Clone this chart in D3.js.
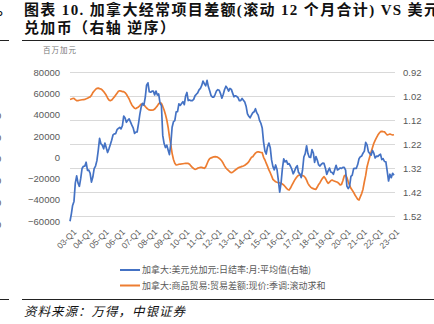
<!DOCTYPE html>
<html>
<head>
<meta charset="utf-8">
<script src="https://cdn.jsdelivr.net/npm/d3@7/dist/d3.min.js"></script>
<style>
  html, body { margin: 0; padding: 0; background: #fff; }
  svg { display: block; }
</style>
</head>
<body>
<svg id="chart" width="434" height="324"></svg>
<script>
// Canada: USD/CAD monthly average of daily rates (right axis, reversed), Jan 2003 - Feb 2023
const usdcad = [
  1.5418, 1.5108, 1.4759, 1.4592, 1.3831, 1.3525, 1.3821, 1.3963, 1.3634, 1.3221, 1.3128, 1.3124,
  1.2958, 1.3299, 1.3286, 1.3420, 1.3789, 1.3578, 1.3225, 1.3119, 1.2893, 1.2478, 1.1968, 1.2189,
  1.2248, 1.2401, 1.2160, 1.2359, 1.2555, 1.2402, 1.2229, 1.2044, 1.1822, 1.1775, 1.1766, 1.1604,
  1.1551, 1.1507, 1.1572, 1.1441, 1.1033, 1.1113, 1.1295, 1.1214, 1.1150, 1.1276, 1.1414, 1.1526,
  1.1756, 1.1703, 1.1700, 1.1349, 1.0964, 1.0655, 1.0509, 1.0581, 1.0255, 0.9750, 0.9652, 1.0025,
  1.0044, 0.9992, 0.9998, 1.0152, 0.9993, 1.0161, 1.0115, 1.0504, 1.0596, 1.1842, 1.2181, 1.2347,
  1.2247, 1.2457, 1.2640, 1.2206, 1.1501, 1.1270, 1.1226, 1.0864, 1.0855, 1.0530, 1.0591, 1.0516,
  1.0436, 1.0561, 1.0212, 1.0052, 1.0389, 1.0365, 1.0394, 1.0391, 1.0339, 1.0196, 1.0127, 1.0070,
  0.9942, 0.9880, 0.9769, 0.9580, 0.9687, 0.9776, 0.9547, 0.9818, 0.9994, 1.0189, 1.0243, 1.0247,
  1.0128, 0.9983, 0.9937, 0.9958, 1.0100, 1.0292, 1.0140, 0.9928, 0.9792, 0.9873, 0.9992, 0.9886,
  0.9925, 1.0091, 1.0233, 1.0190, 1.0213, 1.0268, 1.0392, 1.0390, 1.0302, 1.0377, 1.0453, 1.0625,
  1.0943, 1.1045, 1.1109, 1.0996, 1.0897, 1.0859, 1.0730, 1.0904, 1.0997, 1.1214, 1.1336, 1.1530,
  1.2120, 1.2495, 1.2617, 1.2313, 1.2161, 1.2351, 1.2863, 1.3145, 1.3275, 1.3073, 1.3262, 1.3705,
  1.4203, 1.3821, 1.3235, 1.2819, 1.2947, 1.2891, 1.3038, 1.3016, 1.3127, 1.3249, 1.3440, 1.3335,
  1.3183, 1.3107, 1.3382, 1.3443, 1.3599, 1.3294, 1.2740, 1.2603, 1.2273, 1.2598, 1.2752, 1.2763,
  1.2434, 1.2574, 1.2968, 1.2721, 1.2870, 1.3071, 1.3117, 1.3042, 1.2997, 1.3010, 1.3206, 1.3468,
  1.3319, 1.3205, 1.3364, 1.3391, 1.3463, 1.3265, 1.3089, 1.3281, 1.3240, 1.3198, 1.3217, 1.3175,
  1.3170, 1.3287, 1.3957, 1.4054, 1.3964, 1.3551, 1.3495, 1.3227, 1.3216, 1.3212, 1.3057, 1.2813,
  1.2727, 1.2697, 1.2583, 1.2496, 1.2136, 1.2235, 1.2520, 1.2597, 1.2665, 1.2470, 1.2580, 1.2780,
  1.2706, 1.2718, 1.2662, 1.2624, 1.2848, 1.2815, 1.2929, 1.2946, 1.3345, 1.3742, 1.3459, 1.3605,
  1.3422, 1.3499
];

// Canada: merchandise trade balance, current prices, s.a., rolling 12-month sum (CAD mn, left axis)
const tradeBalance = [
  54700, 55000, 55500, 55700, 54500, 53400, 53500, 53800, 54100, 54300, 54500, 54700,
  55200, 55800, 56500, 57000, 58500, 61000, 62500, 64000, 65100, 65300, 64800, 64400,
  63500, 62000, 60400, 58500, 56000, 54000, 53400, 54000, 55500, 57000, 58800, 60500,
  62300, 62800, 62500, 62000, 61900, 61000, 59500, 57200, 55000, 52000, 49400, 47800,
  46300, 46000, 46800, 47500, 48800, 50300, 50000, 49400, 48000, 46500, 45500, 44700,
  44500, 44600, 44700, 45500, 47000, 48500, 50500, 51500, 51000, 48000, 44600, 40500,
  35200, 28000, 19500, 12000, 3800, -2000, -5500, -7200, -7000, -6500, -6300, -6200,
  -6000, -5800, -5600, -5600, -5700, -6500, -8100, -9500, -10500, -11300, -11000, -10200,
  -9800, -9400, -9500, -9900, -10300, -9000, -6000, -3000, -1000, -500, 0, 500,
  600, 500, 0, -900, -2000, -3500, -5600, -8000, -10000, -11300, -12500, -13800,
  -14500, -14000, -13000, -11900, -11000, -10000, -9400, -9000, -8500, -8100, -7500, -6500,
  -5600, -4000, -2000, 0, 600, 2500, 4000, 5000, 5300, 5000, 4600, 4400,
  0, -2500, -5500, -8500, -11900, -14500, -17500, -20700, -22000, -23000, -23500, -23900,
  -24000, -24500, -25200, -26000, -27500, -29000, -30300, -30800, -29000, -26500, -24000, -21700,
  -19700, -18000, -17000, -16600, -16800, -17200, -17600, -19000, -21500, -24500, -26500, -28000,
  -29000, -29500, -30000, -30100, -28000, -25500, -23900, -21500, -19500, -18200, -20000, -22500,
  -24500, -23500, -22000, -21400, -22000, -22500, -23000, -23500, -24500, -26000, -25500, -22000,
  -17500, -16600, -19000, -23000, -26500, -29200, -31000, -33000, -35500, -37500, -39500, -40200,
  -37000, -33900, -30000, -23000, -17000, -8800, -4000, 600, 5000, 9000, 13250, 16000,
  18500, 21000, 22700, 24200, 24500, 24200, 24000, 22500, 21100, 21500, 22000, 21500,
  21100, 21300
];

const startYear = 2003, startMonth = 0;
const leftTicks = [80000, 60000, 40000, 20000, 0, -20000, -40000, -60000];
const rightTicks = [0.92, 1.02, 1.12, 1.22, 1.32, 1.42, 1.52];
const yearLabels = d3.range(2003, 2024).map(y => String(y % 100).padStart(2, "0") + "-Q1");

const titleLines = ["图表 10. 加拿大经常项目差额(滚动 12 个月合计) VS 美元", "兑加币（右轴 逆序）"];
const unitLabel = "百万加元";
const legendLabels = ["加拿大:美元兑加元:日结率:月:平均值(右轴)", "加拿大:商品贸易:贸易差额:现价:季调:滚动求和"];
const sourceText = "资料来源：万得，中银证券";

const blue = "#4472C4", orange = "#ED7D31", grey = "#595959", gridColor = "#d9d9d9";
const cjk = "'Noto Sans CJK SC', 'Noto Sans', sans-serif";

const svg = d3.select("#chart");

const monthDate = i => new Date(startYear, startMonth + i, 1);
const x = d3.scaleTime()
  .domain([monthDate(0), monthDate(usdcad.length - 1)])
  .range([70, 394]);
const yLeft = d3.scaleLinear().domain([-60000, 80000]).range([221, 72.5]);
const yRight = d3.scaleLinear().domain([0.92, 1.52]).range([72, 216]);

// Slivers of the neighbouring column at the left edge
svg.append("line").attr("x1", 0).attr("x2", 9).attr("y1", 40.5).attr("y2", 40.5)
  .attr("stroke", "#222").attr("stroke-width", 1);
svg.append("line").attr("x1", 0).attr("x2", 9).attr("y1", 299.5).attr("y2", 299.5)
  .attr("stroke", "#222").attr("stroke-width", 1);
svg.append("text").attr("x", -3).attr("y", 14).attr("font-size", 15)
  .attr("font-family", cjk).attr("font-weight", "bold").attr("fill", "#111").text("。");
[119, 141, 162, 184, 206, 228].forEach(yy => {
  svg.append("text").attr("x", -4).attr("y", yy).attr("font-size", 9.5)
    .attr("font-family", "'Liberation Sans', Arial, sans-serif").attr("fill", grey).text("0");
});

// Title
svg.selectAll("text.title").data(titleLines).join("text")
  .attr("class", "title")
  .attr("x", 24)
  .attr("y", (d, i) => 14.5 + i * 18)
  .attr("font-size", 15)
  .attr("letter-spacing", 1.35)
  .attr("font-weight", "bold")
  .attr("font-family", "'Liberation Serif', 'Noto Sans CJK SC', serif")
  .attr("fill", "#111")
  .text(d => d);

// Rules above and below the figure
svg.append("line").attr("x1", 22).attr("x2", 434).attr("y1", 40.5).attr("y2", 40.5)
  .attr("stroke", "#222").attr("stroke-width", 1);
svg.append("line").attr("x1", 22).attr("x2", 434).attr("y1", 299.5).attr("y2", 299.5)
  .attr("stroke", "#222").attr("stroke-width", 1);

// Unit label
svg.append("text").attr("x", 43).attr("y", 53).attr("font-size", 7.5)
  .attr("font-family", cjk).attr("fill", "#777").attr("letter-spacing", 1).text(unitLabel);

// Gridlines
svg.append("g").selectAll("line").data(rightTicks).join("line")
  .attr("x1", 70).attr("x2", 395)
  .attr("y1", d => Math.round(yRight(d)) + 0.5).attr("y2", d => Math.round(yRight(d)) + 0.5)
  .attr("stroke", gridColor).attr("stroke-width", 1);

// Left axis
const leftAxis = svg.append("g").attr("transform", "translate(60,0)")
  .call(d3.axisLeft(yLeft).tickValues(leftTicks).tickSize(0).tickPadding(0).tickFormat(d3.format("d")));
leftAxis.select(".domain").remove();
leftAxis.selectAll("text").attr("font-size", 9.5).attr("fill", grey)
  .attr("font-family", "'Liberation Sans', Arial, sans-serif");

// Right axis (reversed USD/CAD)
const rightAxis = svg.append("g").attr("transform", "translate(403,0)")
  .call(d3.axisRight(yRight).tickValues(rightTicks).tickSize(0).tickPadding(0).tickFormat(d3.format(".2f")));
rightAxis.select(".domain").remove();
rightAxis.selectAll("text").attr("font-size", 9.5).attr("fill", grey)
  .attr("font-family", "'Liberation Sans', Arial, sans-serif");

// Bottom axis: one label per year, rotated
const xTicks = yearLabels.map((_, i) => new Date(startYear + i, 0, 1));
const bottomAxis = svg.append("g").attr("transform", "translate(0,229)")
  .call(d3.axisBottom(x).tickValues(xTicks).tickSize(0).tickPadding(0)
    .tickFormat((d, i) => yearLabels[i]));
bottomAxis.select(".domain").remove();
bottomAxis.selectAll("text")
  .attr("font-size", 8.5).attr("fill", grey)
  .attr("font-family", "'Liberation Sans', Arial, sans-serif")
  .attr("text-anchor", "end")
  .attr("dy", "0.6em")
  .attr("transform", "translate(3,0) rotate(-45)");

// Series lines
const tradeLine = d3.line().x((d, i) => x(monthDate(i))).y(d => yLeft(d));
const fxLine = d3.line().x((d, i) => x(monthDate(i))).y(d => yRight(d));

svg.append("path").datum(tradeBalance).attr("d", tradeLine)
  .attr("fill", "none").attr("stroke", orange).attr("stroke-width", 1.7)
  .attr("stroke-linejoin", "round");
svg.append("path").datum(usdcad).attr("d", fxLine)
  .attr("fill", "none").attr("stroke", blue).attr("stroke-width", 1.7)
  .attr("stroke-linejoin", "round");

// Legend
const legend = svg.append("g");
const legendColors = [blue, orange];
legendLabels.forEach((lab, i) => {
  const yy = 270 + i * 15.5;
  legend.append("line").attr("x1", 120).attr("x2", 140).attr("y1", yy).attr("y2", yy)
    .attr("stroke", legendColors[i]).attr("stroke-width", 2);
  legend.append("text").attr("x", 142).attr("y", yy + 3.3).attr("font-size", 9)
    .attr("font-family", cjk).attr("fill", grey).text(lab);
});

// Source note
svg.append("text").attr("x", 24).attr("y", 316).attr("font-size", 12.5)
  .attr("font-style", "italic").attr("font-family", cjk).attr("fill", "#111")
  .attr("letter-spacing", 1).text(sourceText);
</script>
</body>
</html>
